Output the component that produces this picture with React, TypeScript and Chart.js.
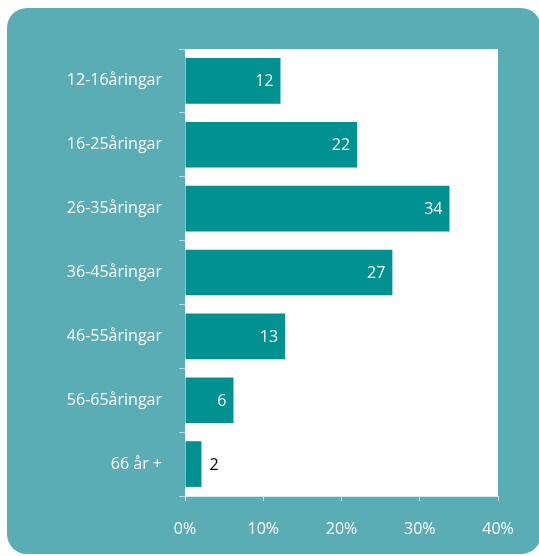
import React, { useEffect, useRef } from "react";
import { Chart, registerables } from "chart.js";

Chart.register(...registerables);

const categories = [
  "12-16åringar",
  "16-25åringar",
  "26-35åringar",
  "36-45åringar",
  "46-55åringar",
  "56-65åringar",
  "66 år +",
];
const shares = [12.2, 22.0, 33.8, 26.5, 12.8, 6.2, 2.1];
const xTicks = [0, 10, 20, 30, 40];

const PANEL = "#5badb5";
const BAR = "#019191";
const FONT = "'Open Sans', 'Noto Sans', sans-serif";

const bgPlugin = {
  id: "plotBg",
  beforeDraw(chart: any) {
    const { ctx, chartArea } = chart;
    ctx.save();
    ctx.fillStyle = "#ffffff";
    ctx.fillRect(chartArea.left, chartArea.top, chartArea.right - chartArea.left, chartArea.bottom - chartArea.top);
    ctx.restore();
  },
};

const labelPlugin = {
  id: "barLabels",
  afterDatasetsDraw(chart: any) {
    const { ctx } = chart;
    const meta = chart.getDatasetMeta(0);
    ctx.save();
    ctx.font = `16px ${FONT}`;
    ctx.textBaseline = "middle";
    meta.data.forEach((el: any, i: number) => {
      const v = shares[i];
      const txt = String(Math.round(v));
      if (v >= 5) {
        ctx.fillStyle = "#ffffff";
        ctx.textAlign = "right";
        ctx.fillText(txt, el.x - 7, el.y + 1);
      } else {
        ctx.fillStyle = "#000000";
        ctx.textAlign = "left";
        ctx.fillText(txt, el.x + 8, el.y + 1);
      }
    });
    ctx.restore();
  },
};

export default function App() {
  const ref = useRef<HTMLCanvasElement | null>(null);

  useEffect(() => {
    if (!ref.current) return;
    const chart = new Chart(ref.current, {
      type: "bar",
      data: {
        labels: categories,
        datasets: [
          {
            data: shares,
            backgroundColor: BAR,
            borderWidth: 0,
            barPercentage: 0.715,
            categoryPercentage: 1,
          },
        ],
      },
      options: {
        indexAxis: "y",
        responsive: false,
        animation: false,
        maintainAspectRatio: false,
        layout: { padding: { top: 49, right: 41, left: 0, bottom: 0 } },
        plugins: { legend: { display: false }, tooltip: { enabled: false } },
        scales: {
          x: {
            min: 0,
            max: 40,
            afterBuildTicks: (scale: any) => {
              scale.ticks = xTicks.map((v) => ({ value: v }));
            },
            afterFit: (scale: any) => {
              scale.height = 60;
            },
            border: { display: true, color: "rgba(255,255,255,0.75)", width: 1 },
            grid: {
              drawOnChartArea: false,
              drawTicks: true,
              tickLength: 5,
              color: "rgba(255,255,255,0.75)",
            },
            ticks: {
              color: "#ffffff",
              font: { family: FONT, size: 16 },
              padding: 19,
              callback: (v: any) => `${v}%`,
            },
          },
          y: {
            afterFit: (scale: any) => {
              scale.width = 185;
            },
            border: { display: true, color: "rgba(255,255,255,0.6)", width: 1 },
            grid: {
              drawOnChartArea: false,
              drawTicks: true,
              tickLength: 6,
              color: "rgba(255,255,255,0.6)",
            },
            ticks: {
              color: "#ffffff",
              font: { family: FONT, size: 16 },
              padding: 17,
            },
          },
        },
      },
      plugins: [bgPlugin, labelPlugin],
    });
    return () => chart.destroy();
  }, []);

  return (
    <div style={{ position: "fixed", left: 0, top: 0, width: 539, height: 556, background: "#ffffff", overflow: "hidden" }}>
      <div
        style={{
          position: "absolute",
          left: 7,
          top: 8,
          width: 534,
          height: 546,
          background: PANEL,
          borderRadius: 20,
        }}
      />
      <canvas ref={ref} width={539} height={556} style={{ position: "absolute", left: 0, top: 0, width: 539, height: 556 }} />
    </div>
  );
}
